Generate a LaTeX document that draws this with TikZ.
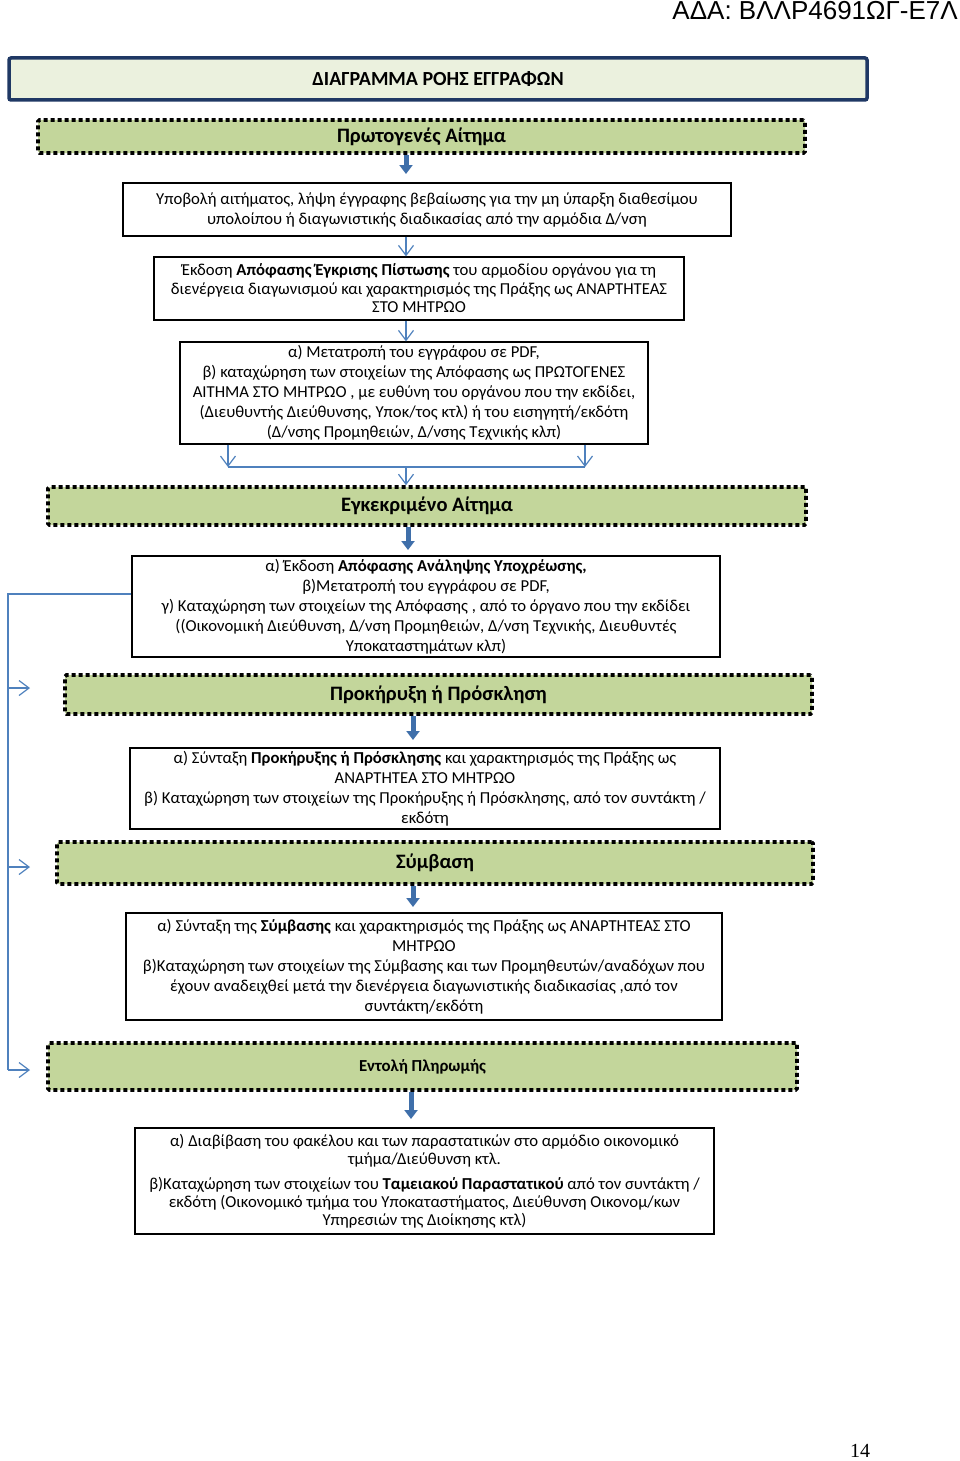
\documentclass[tikz,border=0pt]{standalone}
\usepackage{fontspec}
\setmainfont{Carlito}
\newfontfamily\hdrfont{Liberation Sans}
\newfontfamily\pgfont{Liberation Serif}
\usetikzlibrary{arrows.meta}
\definecolor{gfill}{HTML}{C3D69B}
\definecolor{tfill}{HTML}{EBF1DE}
\definecolor{navy}{HTML}{1F3864}
\definecolor{lblue}{HTML}{4F81BD}
\definecolor{dblue}{HTML}{3F6FAA}
\tikzset{
  greenbox/.style={draw=black, fill=gfill, line width=3.6pt, dash pattern=on 4pt off 3pt, rounded corners=1.5pt, inner sep=0pt, font=\fontsize{20.5}{24}\selectfont\bfseries},
  textbox/.style={draw=black, line width=1.3pt, fill=white, align=center, inner sep=0pt, font=\fontsize{16.7}{20}\selectfont},
  thinarrow/.style={draw=lblue, line width=1.2pt, -{Straight Barb[length=10pt,width=15pt,line width=1.2pt]}},
  thinline/.style={draw=lblue, line width=1.2pt},
  blockarrow/.style={draw=dblue, line width=5pt, -{Triangle[length=9pt,width=13pt]}},
}
\begin{document}
\begin{tikzpicture}[x=1pt,y=-1pt]
\useasboundingbox (0,0) rectangle (960,1461);
% header
\node[anchor=north east, inner sep=0pt, font=\hdrfont\fontsize{26}{28}\selectfont] (hdr) at (958,1) {ΑΔΑ: ΒΛΛΡ4691ΩΓ-Ε7Λ};
% title
\node[draw=navy, fill=tfill, line width=3.5pt, rounded corners=2pt, minimum width=858pt, minimum height=42pt, inner sep=0pt, font=\fontsize{20}{22}\selectfont\bfseries] (title) at (438,79) {ΔΙΑΓΡΑΜΜΑ ΡΟΗΣ ΕΓΓΡΑΦΩΝ};
% green boxes
\node[greenbox, minimum width=767pt, minimum height=33pt] (g1) at (421.5,136.5) {Πρωτογενές Αίτημα};
\node[greenbox, minimum width=758pt, minimum height=38pt] (g2) at (427,506) {Εγκεκριμένο Αίτημα};
\node[greenbox, minimum width=747pt, minimum height=39pt] (g3) at (438.5,694.5) {Προκήρυξη ή Πρόσκληση};
\node[greenbox, minimum width=756pt, minimum height=42pt] (g4) at (435,863) {Σύμβαση};
\node[greenbox, minimum width=749pt, minimum height=47pt, font=\fontsize{16.8}{19}\selectfont\bfseries] (g5) at (422.5,1066.5) {Εντολή Πληρωμής};
% text boxes
\node[textbox, minimum width=608pt, minimum height=53pt] (b1) at (427,209.5) {Υποβολή αιτήματος, λήψη έγγραφης βεβαίωσης για την μη ύπαρξη διαθεσίμου\\ υπολοίπου ή διαγωνιστικής διαδικασίας από την αρμόδια Δ/νση};
\node[textbox, minimum width=530pt, minimum height=63pt, font=\fontsize{16.7}{18.5}\selectfont] (b2) at (419,288.5) {Έκδοση \textbf{Απόφασης Έγκρισης Πίστωσης} του αρμοδίου οργάνου για τη\\ διενέργεια διαγωνισμού και χαρακτηρισμός της Πράξης ως ΑΝΑΡΤΗΤΕΑΣ\\ ΣΤΟ ΜΗΤΡΩΟ};
\node[textbox, minimum width=468pt, minimum height=102pt] (b3) at (414,393) {α) Μετατροπή του εγγράφου σε PDF,\\ β) καταχώρηση των στοιχείων της Απόφασης ως ΠΡΩΤΟΓΕΝΕΣ\\ ΑΙΤΗΜΑ ΣΤΟ ΜΗΤΡΩΟ , με ευθύνη του οργάνου που την εκδίδει,\\ (Διευθυντής Διεύθυνσης, Υποκ/τος κτλ) ή του εισηγητή/εκδότη\\ (Δ/νσης Προμηθειών, Δ/νσης Τεχνικής κλπ)};
\node[textbox, minimum width=588pt, minimum height=101pt] (b4) at (426,606.5) {α) Έκδοση \textbf{Απόφασης Ανάληψης Υποχρέωσης,}\\ β)Μετατροπή του εγγράφου σε PDF,\\ γ) Καταχώρηση των στοιχείων της Απόφασης , από το όργανο που την εκδίδει\\ ((Οικονομική Διεύθυνση, Δ/νση Προμηθειών, Δ/νση Τεχνικής, Διευθυντές\\ Υποκαταστημάτων κλπ)};
\node[textbox, minimum width=590pt, minimum height=81pt] (b5) at (425,788.5) {α) Σύνταξη \textbf{Προκήρυξης ή Πρόσκλησης} και χαρακτηρισμός της Πράξης ως\\ ΑΝΑΡΤΗΤΕΑ ΣΤΟ ΜΗΤΡΩΟ\\ β) Καταχώρηση των στοιχείων της Προκήρυξης ή Πρόσκλησης, από τον συντάκτη /\\ εκδότη};
\node[textbox, minimum width=596pt, minimum height=107pt] (b6) at (424,966.5) {α) Σύνταξη της \textbf{Σύμβασης} και χαρακτηρισμός της Πράξης ως ΑΝΑΡΤΗΤΕΑΣ ΣΤΟ\\ ΜΗΤΡΩΟ\\ β)Καταχώρηση των στοιχείων της Σύμβασης και των Προμηθευτών/αναδόχων που\\ έχουν αναδειχθεί μετά την διενέργεια διαγωνιστικής διαδικασίας ,από τον\\ συντάκτη/εκδότη};
\node[textbox, minimum width=579pt, minimum height=106pt, font=\fontsize{16.7}{18}\selectfont] (b7) at (424.5,1181) {α) Διαβίβαση του φακέλου και των παραστατικών στο αρμόδιο οικονομικό\\ τμήμα/Διεύθυνση κτλ.\\[7pt] β)Καταχώρηση των στοιχείων του \textbf{Ταμειακού Παραστατικού} από τον συντάκτη /\\ εκδότη (Οικονομικό τμήμα του Υποκαταστήματος, Διεύθυνση Οικονομ/κων\\ Υπηρεσιών της Διοίκησης κτλ)};
% page number
\node[font=\pgfont\fontsize{20}{22}\selectfont, inner sep=0pt] (pg) at (860,1451) {14};
% coordinates
\coordinate (a1) at (406,174);
\coordinate (a2) at (408,550);
\coordinate (a3) at (413,740);
\coordinate (a4) at (413,907);
\coordinate (a5) at (411,1119);
\coordinate (jl) at (228,467);
\coordinate (jr) at (585,467);
\coordinate (jm) at (406,467);
\coordinate (fb0) at (8,594);
\coordinate (fb1) at (8,688);
\coordinate (fb2) at (8,867);
\coordinate (fb3) at (8,1070);
\coordinate (fe1) at (30,688);
\coordinate (fe2) at (30,867);
\coordinate (fe3) at (30,1070);
% block arrows
\draw[blockarrow] (g1.south -| a1) -- (a1);
\draw[blockarrow] (g2.south -| a2) -- (a2);
\draw[blockarrow] (g3.south -| a3) -- (a3);
\draw[blockarrow] (g4.south -| a4) -- (a4);
\draw[blockarrow] (g5.south -| a5) -- (a5);
% thin arrows
\draw[thinarrow] (b1.south -| a1) -- (b2.north -| a1);
\draw[thinarrow] (b2.south -| a1) -- (b3.north -| a1);
\draw[thinarrow] (b3.south -| jl) -- (jl);
\draw[thinarrow] (b3.south -| jr) -- (jr);
\draw[thinline] (jl) -- (jr);
\draw[thinarrow] (jm) -- (g2.north -| jm);
% feedback line
\draw[thinline] (b4.west |- fb0) -- (fb0) -- (fb3);
\draw[thinarrow] (fb1) -- (fe1);
\draw[thinarrow] (fb2) -- (fe2);
\draw[thinarrow] (fb3) -- (fe3);
\end{tikzpicture}
\end{document}
